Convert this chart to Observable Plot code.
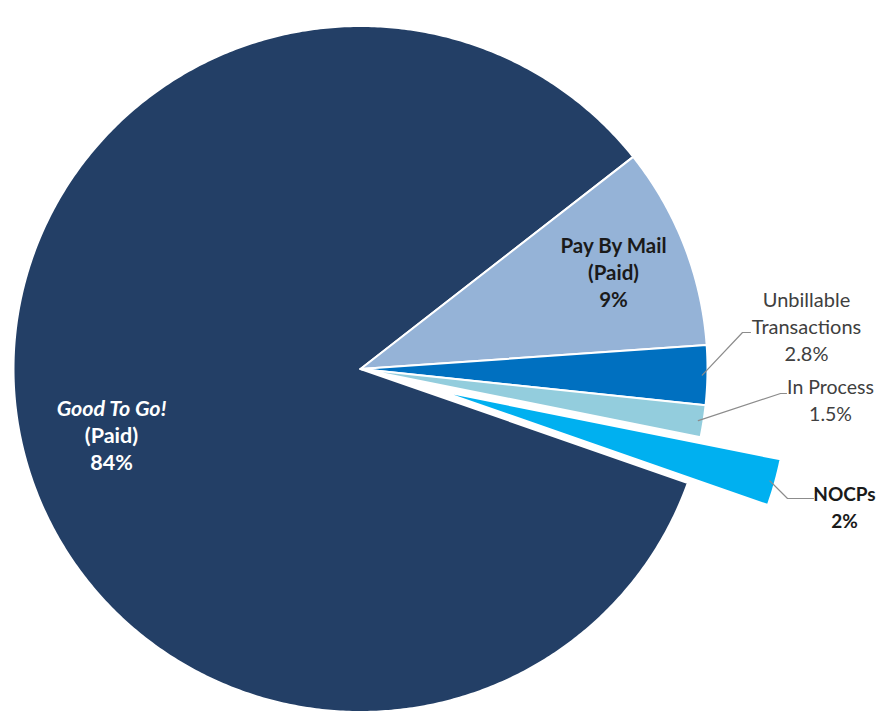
<!DOCTYPE html>
<html><head><meta charset="utf-8">
<script src="https://cdn.jsdelivr.net/npm/d3@7"></script>
<script src="https://cdn.jsdelivr.net/npm/@observablehq/plot@0.6"></script>
<style>html,body{margin:0;padding:0;background:#fff}#chart svg{display:block}</style>
</head><body><div id="chart"></div>
<script>
// ---- data ----
const categories = ["Good To Go!", "Pay By Mail", "Unbillable Transactions", "In Process", "NOCPs"];
const shares = [84, 9.5, 2.8, 1.5, 2.2];
const shareLabels = ["84%", "9%", "2.8%", "1.5%", "2%"];
const labelLines = [["Good To Go!", "(Paid)"], ["Pay By Mail", "(Paid)"], ["Unbillable", "Transactions"], ["In Process"], ["NOCPs"]];
const sliceColors = ["#233f66", "#95b3d7", "#0070c0", "#93cddd", "#00b0f0"];
const explodedFlags = [false, false, false, false, true];

// ---- layout ----
const W = 877, H = 721, CX = 360, CY = 368.5, RX = 347, RY = 343;
const START_DEG = 51.8 - 302.4;
const EXPLODE = 83;
const LINE_H = 27;
const FONT = "Lato, 'Open Sans', sans-serif";
const labelLayout = [
  {x: 111, y: 409, color: "#ffffff", weight: "bold", firstItalic: true, size: 21.5},
  {x: 613, y: 246, color: "#1a1a1a", weight: "bold", size: 20.5},
  {x: 806, y: 300, color: "#404040", weight: "normal", size: 20, elbow: [742, 332], end: [750, 332]},
  {x: 830, y: 387, color: "#404040", weight: "normal", size: 19.5, elbow: [780, 393], end: [786, 393]},
  {x: 844, y: 494, color: "#1a1a1a", weight: "bold", size: 19, elbow: [787, 498], end: [813, 498]}
];
const px2x = p => (p - CX) / RX, px2y = p => (p - CY) / RY;

const rows = categories.map((name, i) => ({name, share: shares[i], color: sliceColors[i], exploded: explodedFlags[i], i}));
const a0 = START_DEG * Math.PI / 180;
const arcs = d3.pie().sort(null).value(d => d.share).startAngle(a0).endAngle(a0 + 2 * Math.PI)(rows);

const polyPts = [];
const leaderPts = [];
arcs.forEach(a => {
  const d = a.data;
  const mid = (a.startAngle + a.endAngle) / 2;
  const ox = d.exploded ? EXPLODE * Math.sin(mid) / RX : 0;
  const oy = d.exploded ? -EXPLODE * Math.cos(mid) / RY : 0;
  polyPts.push({name: d.name, x: ox, y: oy, color: d.color});
  const n = Math.max(2, Math.ceil((a.endAngle - a.startAngle) / (Math.PI / 360)));
  for (let k = 0; k <= n; k++) {
    const t = a.startAngle + (a.endAngle - a.startAngle) * k / n;
    polyPts.push({name: d.name, x: ox + Math.sin(t), y: oy - Math.cos(t), color: d.color});
  }
  polyPts.push({name: d.name, x: ox, y: oy, color: d.color});
  const L = labelLayout[d.i];
  if (L.elbow) {
    leaderPts.push({name: d.name, x: ox + 0.985 * Math.sin(mid), y: oy - 0.985 * Math.cos(mid)});
    leaderPts.push({name: d.name, x: px2x(L.elbow[0]), y: px2y(L.elbow[1])});
    leaderPts.push({name: d.name, x: px2x(L.end[0]), y: px2y(L.end[1])});
  }
});

const textRows = [];
categories.forEach((name, i) => {
  const L = labelLayout[i];
  const lines = [...labelLines[i], shareLabels[i]];
  lines.forEach((t, k) => {
    textRows.push({
      text: t, x: px2x(L.x), y: px2y(L.y + k * LINE_H), color: L.color, size: L.size,
      weight: L.weight, style: (k === 0 && L.firstItalic) ? "italic" : "normal"
    });
  });
});
const groups = d3.groups(textRows, r => r.weight + "|" + r.style + "|" + r.size);

const plot = Plot.plot({
  width: W, height: H,
  margin: 0,
  x: {type: "linear", domain: [px2x(0), px2x(W)], range: [0, W], axis: null},
  y: {type: "linear", domain: [px2y(0), px2y(H)], range: [0, H], axis: null},
  color: {type: "identity"},
  style: {fontFamily: FONT, background: "#fff", overflow: "visible"},
  marks: [
    Plot.line(polyPts, {x: "x", y: "y", z: "name", fill: "color", stroke: "#ffffff", strokeWidth: 2, strokeLinejoin: "round", curve: "linear"}),
    Plot.line(leaderPts, {x: "x", y: "y", z: "name", stroke: "#8c8c8c", strokeWidth: 1.2, curve: "linear"}),
    ...groups.map(([key, g]) => {
      const [weight, style, size] = key.split("|");
      return Plot.text(g, {x: "x", y: "y", text: "text", fill: "color", fontSize: +size, fontWeight: weight, fontStyle: style, fontFamily: FONT, textAnchor: "middle"});
    })
  ]
});
document.getElementById("chart").appendChild(plot);
</script>
</body></html>
